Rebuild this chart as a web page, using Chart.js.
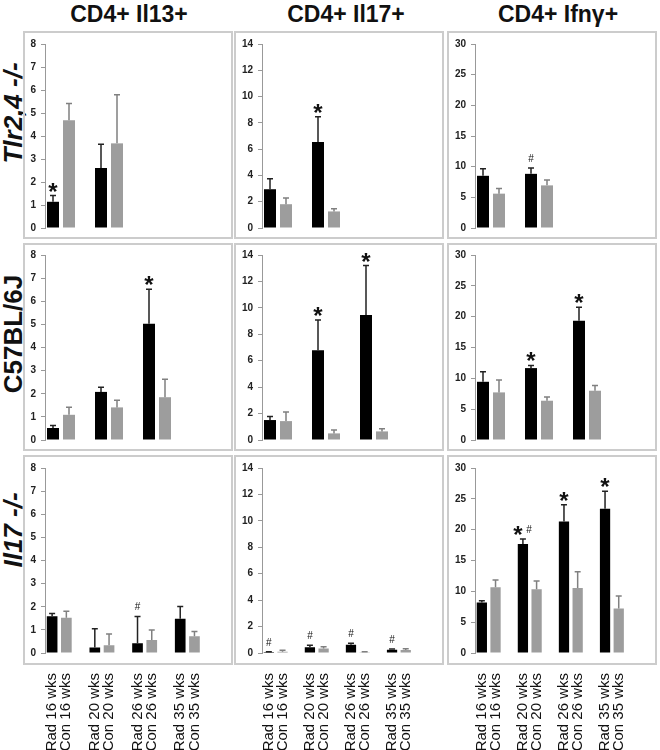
<!DOCTYPE html>
<html><head><meta charset="utf-8">
<script src="https://cdn.jsdelivr.net/npm/chart.js@4.4.0/dist/chart.umd.min.js"></script>
<style>
html,body{margin:0;padding:0;background:#fff;}
body{width:660px;height:750px;position:relative;overflow:hidden;font-family:"Liberation Sans",Arial,sans-serif;}
.panel{position:absolute;border:2px solid #cccccc;box-sizing:border-box;}
.cv{position:absolute;}
.colh{position:absolute;top:1px;font-weight:bold;font-size:23px;text-align:center;width:220px;color:#111;white-space:nowrap;}
.rowh{position:absolute;font-weight:bold;font-size:26px;white-space:nowrap;transform:translate(-50%,-50%) rotate(-90deg);color:#111;}
</style></head><body>
<script>
// ---------- data ----------
const categories = ['Rad 16 wks','Con 16 wks','','Rad 20 wks','Con 20 wks','','Rad 26 wks','Con 26 wks','','Rad 35 wks','Con 35 wks'];
const columnTitles = ['CD4+ Il13+','CD4+ Il17+','CD4+ Ifnγ+'];
const rowTitles = ['Tlr2,4 -/-','C57BL/6J','Il17 -/-'];
const yMax = [8, 14, 30];
const yStep = [1, 2, 5];

// Tlr2,4 -/-   (weeks 16, 20, 26, 35)
const tlrIl13Rad = [1.14, 2.61, null, null];
const tlrIl13RadErr = [0.27, 1.03, null, null];
const tlrIl13Con = [4.69, 3.68, null, null];
const tlrIl13ConErr = [0.72, 2.11, null, null];
const tlrIl13Marks = ['*', '', '', ''];

const tlrIl17Rad = [2.95, 6.55, null, null];
const tlrIl17RadErr = [0.8, 1.91, null, null];
const tlrIl17Con = [1.81, 1.26, null, null];
const tlrIl17ConErr = [0.48, 0.2, null, null];
const tlrIl17Marks = ['', '*', '', ''];

const tlrIfngRad = [8.51, 8.83, null, null];
const tlrIfngRadErr = [1.13, 0.97, null, null];
const tlrIfngCon = [5.6, 6.95, null, null];
const tlrIfngConErr = [0.86, 0.86, null, null];
const tlrIfngMarks = ['', '#', '', ''];

// C57BL/6J
const wtIl13Rad = [0.52, 2.08, 5.03, null];
const wtIl13RadErr = [0.11, 0.2, 1.49, null];
const wtIl13Con = [1.09, 1.41, 1.85, null];
const wtIl13ConErr = [0.33, 0.31, 0.78, null];
const wtIl13Marks = ['', '', '*', ''];

const wtIl17Rad = [1.51, 6.8, 9.46, null];
const wtIl17RadErr = [0.27, 2.28, 3.74, null];
const wtIl17Con = [1.43, 0.5, 0.65, null];
const wtIl17ConErr = [0.68, 0.25, 0.2, null];
const wtIl17Marks = ['', '*', '*', ''];

const wtIfngRad = [9.44, 11.66, 19.32, null];
const wtIfngRadErr = [1.62, 0.43, 2.21, null];
const wtIfngCon = [7.72, 6.37, 7.99, null];
const wtIfngConErr = [1.99, 0.59, 0.86, null];
const wtIfngMarks = ['', '*', '*', ''];

// Il17 -/-
const koIl13Rad = [1.59, 0.24, 0.42, 1.48];
const koIl13RadErr = [0.12, 0.81, 1.16, 0.53];
const koIl13Con = [1.52, 0.33, 0.56, 0.72];
const koIl13ConErr = [0.29, 0.49, 0.43, 0.21];
const koIl13Marks = ['', '', '#', ''];

const koIl17Rad = [0.08, 0.43, 0.63, 0.25];
const koIl17RadErr = [0.02, 0.15, 0.1, 0.05];
const koIl17Con = [0.1, 0.35, 0.05, 0.23];
const koIl17ConErr = [0.1, 0.13, 0.05, 0.1];
const koIl17Marks = ['#', '#', '#', '#'];

const koIfngRad = [8.17, 17.69, 21.34, 23.39];
const koIfngRadErr = [0.32, 0.8, 2.69, 2.85];
const koIfngCon = [10.65, 10.32, 10.54, 7.2];
const koIfngConErr = [1.18, 1.35, 2.63, 2.05];
const koIfngMarks = ['', '*#', '*', '*'];

const panels = [
  [tlrIl13Rad, tlrIl13RadErr, tlrIl13Con, tlrIl13ConErr, tlrIl13Marks],
  [tlrIl17Rad, tlrIl17RadErr, tlrIl17Con, tlrIl17ConErr, tlrIl17Marks],
  [tlrIfngRad, tlrIfngRadErr, tlrIfngCon, tlrIfngConErr, tlrIfngMarks],
  [wtIl13Rad, wtIl13RadErr, wtIl13Con, wtIl13ConErr, wtIl13Marks],
  [wtIl17Rad, wtIl17RadErr, wtIl17Con, wtIl17ConErr, wtIl17Marks],
  [wtIfngRad, wtIfngRadErr, wtIfngCon, wtIfngConErr, wtIfngMarks],
  [koIl13Rad, koIl13RadErr, koIl13Con, koIl13ConErr, koIl13Marks],
  [koIl17Rad, koIl17RadErr, koIl17Con, koIl17ConErr, koIl17Marks],
  [koIfngRad, koIfngRadErr, koIfngCon, koIfngConErr, koIfngMarks]
];

// ---------- layout ----------
const FONT = "'Liberation Sans', Arial, sans-serif";
const colLeft = [23, 234, 447];
const panelW = 210;
const yAxisW = [22, 28, 28];
const rowTop = [31, 243, 455];
const rowBottom = [239, 451, 665];
const chartTop = [44, 255, 468];
const chartBottom = [229, 441, 653];
const plotW = 176;

function addDiv(cls, style, text) {
  const d = document.createElement('div');
  d.className = cls;
  Object.assign(d.style, style);
  if (text) d.textContent = text;
  document.body.appendChild(d);
  return d;
}

const colCenters = [129, 346, 558];
columnTitles.forEach((t, i) => addDiv('colh', {left: (colCenters[i] - 110) + 'px'}, t));
const rowCenters = [113, 334, 530];
rowTitles.forEach((t, i) => {
  const d = addDiv('rowh', {left: '13px', top: rowCenters[i] + 'px'}, t);
  if (i !== 1) d.style.fontStyle = 'italic';
});

const errPlugin = {
  id: 'errbars',
  afterDatasetsDraw(chart) {
    const ctx = chart.ctx;
    const ys = chart.scales.y;
    chart.data.datasets.forEach((ds, di) => {
      const meta = chart.getDatasetMeta(di);
      meta.data.forEach((bar, i) => {
        const v = ds.data[i];
        if (v == null) return;
        const e = ds.errors[i] || 0;
        const top = ys.getPixelForValue(v + e);
        ctx.save();
        ctx.strokeStyle = ds.errColor;
        ctx.lineWidth = 1.5;
        ctx.beginPath();
        ctx.moveTo(bar.x, bar.y);
        ctx.lineTo(bar.x, top);
        ctx.moveTo(bar.x - 3, top);
        ctx.lineTo(bar.x + 3, top);
        ctx.stroke();
        const m = ds.marks ? ds.marks[i] : '';
        if (m) {
          ctx.fillStyle = '#111';
          ctx.textAlign = 'center';
          ctx.textBaseline = 'alphabetic';
          const hasStar = m.indexOf('*') >= 0;
          const hasHash = m.indexOf('#') >= 0;
          const both = hasStar && hasHash;
          if (hasStar) {
            ctx.font = 'bold 24px ' + FONT;
            const mt = ctx.measureText('*');
            const base = top - 4 - mt.actualBoundingBoxDescent;
            ctx.fillText('*', bar.x + (both ? -5 : 0), base);
          }
          if (hasHash) {
            ctx.font = '10px ' + FONT;
            ctx.fillText('#', bar.x + (both ? 6 : 0), top - 6);
          }
        }
        ctx.restore();
      });
    });
  }
};

for (let r = 0; r < 3; r++) {
  for (let c = 0; c < 3; c++) {
    const [rad, radErr, con, conErr, marks] = panels[r * 3 + c];
    const isBottom = r === 2;
    addDiv('panel', {left: colLeft[c] + 'px', top: rowTop[r] + 'px', width: (panelW) + 'px', height: (rowBottom[r] - rowTop[r]) + 'px'});
    const cvTop = rowTop[r];
    const cvH = isBottom ? (750 - rowTop[r]) : (rowBottom[r] - rowTop[r]);
    const canvas = document.createElement('canvas');
    canvas.className = 'cv';
    canvas.width = panelW; canvas.height = cvH;
    canvas.style.left = colLeft[c] + 'px';
    canvas.style.top = cvTop + 'px';
    canvas.style.width = panelW + 'px';
    canvas.style.height = cvH + 'px';
    document.body.appendChild(canvas);

    const radData = new Array(categories.length).fill(null);
    const conData = new Array(categories.length).fill(null);
    const radE = new Array(categories.length).fill(null);
    const conE = new Array(categories.length).fill(null);
    const radM = new Array(categories.length).fill('');
    for (let w = 0; w < 4; w++) {
      radData[3 * w] = rad[w]; radE[3 * w] = radErr[w]; radM[3 * w] = marks[w];
      conData[3 * w + 1] = con[w]; conE[3 * w + 1] = conErr[w];
    }
    const padTop = chartTop[r] - rowTop[r];
    const padBottom = isBottom ? 0 : (rowBottom[r] - chartBottom[r]);
    const padRight = panelW - yAxisW[c] - plotW;
    const xH = 750 - chartBottom[r];

    new Chart(canvas, {
      type: 'bar',
      data: {
        labels: categories,
        datasets: [
          {label: 'Rad', data: radData, backgroundColor: '#000000', errors: radE, errColor: '#222222', marks: radM},
          {label: 'Con', data: conData, backgroundColor: '#9d9d9d', errors: conE, errColor: '#808080', marks: null}
        ]
      },
      options: {
        responsive: false,
        animation: false,
        devicePixelRatio: 1,
        layout: {padding: {left: 0, right: padRight, top: padTop, bottom: padBottom}},
        plugins: {legend: {display: false}, tooltip: {enabled: false}},
        datasets: {bar: {grouped: false, barPercentage: 0.75, categoryPercentage: 1}},
        scales: {
          x: {
            display: isBottom,
            grid: {display: false, drawTicks: false},
            border: {display: false},
            ticks: {autoSkip: false, maxRotation: 90, minRotation: 90, padding: 20,
              font: {size: 15, family: FONT}, color: '#111'},
            afterFit: s => { if (isBottom) s.height = xH; }
          },
          y: {
            min: 0, max: yMax[c],
            ticks: {stepSize: yStep[c], padding: 5, font: {size: 10, weight: 'bold', family: FONT}, color: '#222'},
            grid: {drawOnChartArea: false, drawTicks: true, tickLength: 4, color: '#999'},
            border: {display: true, color: '#999'},
            afterFit: s => { s.width = yAxisW[c]; }
          }
        }
      },
      plugins: [errPlugin]
    });
  }
}
</script>
</body></html>
